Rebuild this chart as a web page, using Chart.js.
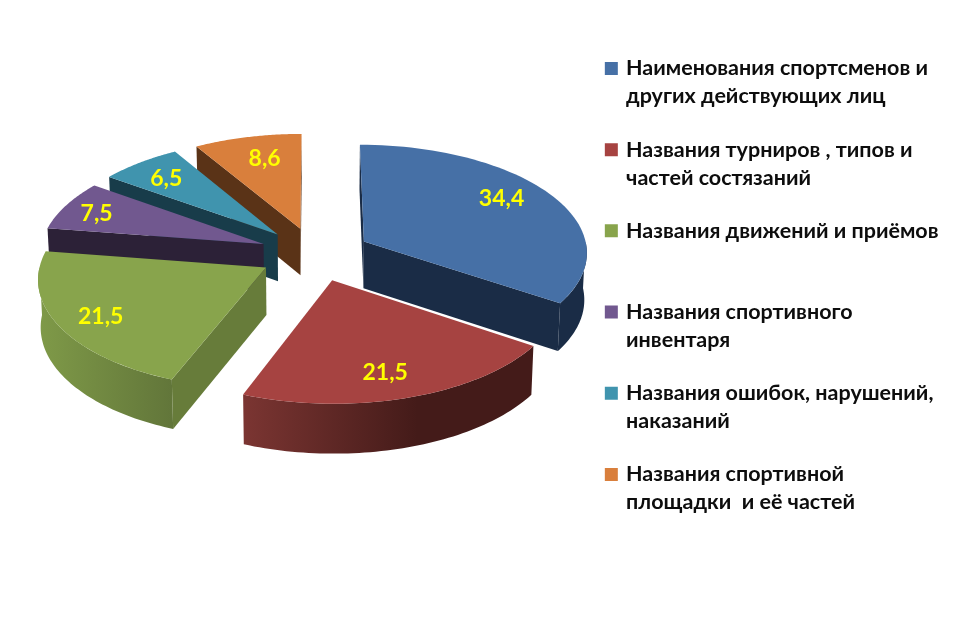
<!DOCTYPE html>
<html>
<head>
<meta charset="utf-8">
<style>
  html, body { margin: 0; padding: 0; background: #fff; }
  canvas { display: block; }
</style>
<script src="https://cdn.jsdelivr.net/npm/chart.js@4"></script>
</head>
<body>
<canvas id="pie" width="955" height="625"></canvas>
<script>
const categories = [
  ['Наименования спортсменов и', 'других действующих лиц'],
  ['Названия турниров , типов и', 'частей состязаний'],
  ['Названия движений и приёмов', ''],
  ['Названия спортивного', 'инвентаря'],
  ['Названия ошибок, нарушений,', 'наказаний'],
  ['Названия спортивной', 'площадки  и её частей']
];
const values = [34.4, 21.5, 21.5, 7.5, 6.5, 8.6];
const valueLabels = ['34,4', '21,5', '21,5', '7,5', '6,5', '8,6'];

const topColors = ['#4670a6', '#a64341', '#88a44c', '#71588f', '#4094ae', '#d97f3c'];
const faceColors = ['#1a2c46', '#441b19', '#677c3a', '#2c2137', '#183c4a', '#5a3317'];
const rimColors = [
  ['#1a2c46', '#1a2c46'],
  ['#7b3532', '#441b19'],
  ['#7f9a48', '#62763a'],
  ['#2c2137', '#2c2137'],
  ['#183c4a', '#183c4a'],
  ['#5a3317', '#5a3317']
];
const labelRadius = [0.7, 0.82, 0.85, 0.8, 0.73, 0.62];
const labelShift = [[6, -9], [-9, -2], [10, 0], [-8, 1], [-9, -3], [-2, -12]];

// fake 3d: the arc elements give angles and offset, this only projects them
const centerX = 315, centerY = 254, pieRadius = 224;
const tilt = 0.48, focal = 2500, depth = 47;

function project(u, v, h) {
  const s = focal / (focal - v);
  return { x: centerX + u * s * (1 - h * 0.0002), y: centerY + tilt * v * s + h * Math.sqrt(s) };
}

function slicePoint(el, angle, r, h) {
  const mid = (el.startAngle + el.endAngle) / 2;
  const off = el.options.offset;
  const u = off * Math.cos(mid) + r * Math.cos(angle);
  const v = off * Math.sin(mid) + r * Math.sin(angle);
  return project(u, v, h);
}

function fillPoly(ctx, pts, style) {
  ctx.beginPath();
  pts.forEach((p, i) => i ? ctx.lineTo(p.x, p.y) : ctx.moveTo(p.x, p.y));
  ctx.closePath();
  ctx.fillStyle = style;
  ctx.fill();
}

function arcPoints(el, from, to, h) {
  const pts = [];
  const n = 60;
  for (let i = 0; i <= n; i++) {
    pts.push(slicePoint(el, from + (to - from) * i / n, pieRadius, h));
  }
  return pts;
}

const pie3d = {
  id: 'pie3d',
  beforeDatasetDraw(chart, args) {
    const ctx = chart.ctx;
    const arcs = args.meta.data.map((el, i) => ({ el, i }));
    arcs.sort((a, b) => {
      const ma = (a.el.startAngle + a.el.endAngle) / 2;
      const mb = (b.el.startAngle + b.el.endAngle) / 2;
      return Math.sin(ma) - Math.sin(mb);
    });
    ctx.save();
    arcs.forEach(({ el, i }) => {
      const a0 = el.startAngle, a1 = el.endAngle;
      // rim, only the part turned to the viewer
      const from = Math.max(a0, 0), to = Math.min(a1, Math.PI);
      if (to > from) {
        const upper = arcPoints(el, from, to, 0);
        const lower = arcPoints(el, from, to, depth).reverse();
        const xs = upper.map(p => p.x);
        const g = ctx.createLinearGradient(Math.min(...xs), 0, Math.max(...xs), 0);
        g.addColorStop(0, rimColors[i][0]);
        g.addColorStop(i === 1 ? 0.6 : 1, rimColors[i][1]);
        if (i === 1) g.addColorStop(1, rimColors[i][1]);
        fillPoly(ctx, upper.concat(lower), g);
      }
      // flat cut faces
      [[a0, a0 - Math.PI / 2], [a1, a1 + Math.PI / 2]].forEach(([a, normal]) => {
        if (Math.sin(normal) > -0.01) {
          fillPoly(ctx, [
            slicePoint(el, a, 0, 0),
            slicePoint(el, a, pieRadius, 0),
            slicePoint(el, a, pieRadius, depth),
            slicePoint(el, a, 0, depth)
          ], faceColors[i]);
        }
      });
      const top = [slicePoint(el, a0, 0, 0)].concat(arcPoints(el, a0, a1, 0));
      fillPoly(ctx, top, el.options.backgroundColor);
    });
    ctx.restore();
    return false;
  },
  afterDatasetsDraw(chart) {
    const ctx = chart.ctx;
    const meta = chart.getDatasetMeta(0);
    ctx.save();
    ctx.font = 'bold 23px Lato, "Open Sans", sans-serif';
    ctx.fillStyle = '#ffff00';
    ctx.textAlign = 'center';
    ctx.textBaseline = 'middle';
    meta.data.forEach((el, i) => {
      const mid = (el.startAngle + el.endAngle) / 2;
      const p = slicePoint(el, mid, pieRadius * labelRadius[i], 0);
      ctx.fillText(valueLabels[i], p.x + labelShift[i][0], p.y + labelShift[i][1]);
    });
    ctx.restore();
  }
};

new Chart(document.getElementById('pie'), {
  type: 'pie',
  data: {
    labels: categories,
    datasets: [{
      data: values,
      backgroundColor: topColors,
      borderWidth: 0,
      offset: 56
    }]
  },
  options: {
    responsive: false,
    animation: false,
    layout: { padding: { top: 32.5, right: 6.5 } },
    plugins: {
      tooltip: { enabled: false },
      legend: {
        position: 'right',
        align: 'start',
        labels: {
          usePointStyle: true,
          pointStyle: 'rect',
          boxWidth: 8,
          boxHeight: 13,
          padding: 25.2,
          color: '#0d0d0d',
          textAlign: 'left',
          font: { family: 'Lato, "Open Sans", sans-serif', size: 21.5, weight: 'bold', lineHeight: 1.3023 }
        }
      }
    }
  },
  plugins: [pie3d]
});
</script>
</body>
</html>
